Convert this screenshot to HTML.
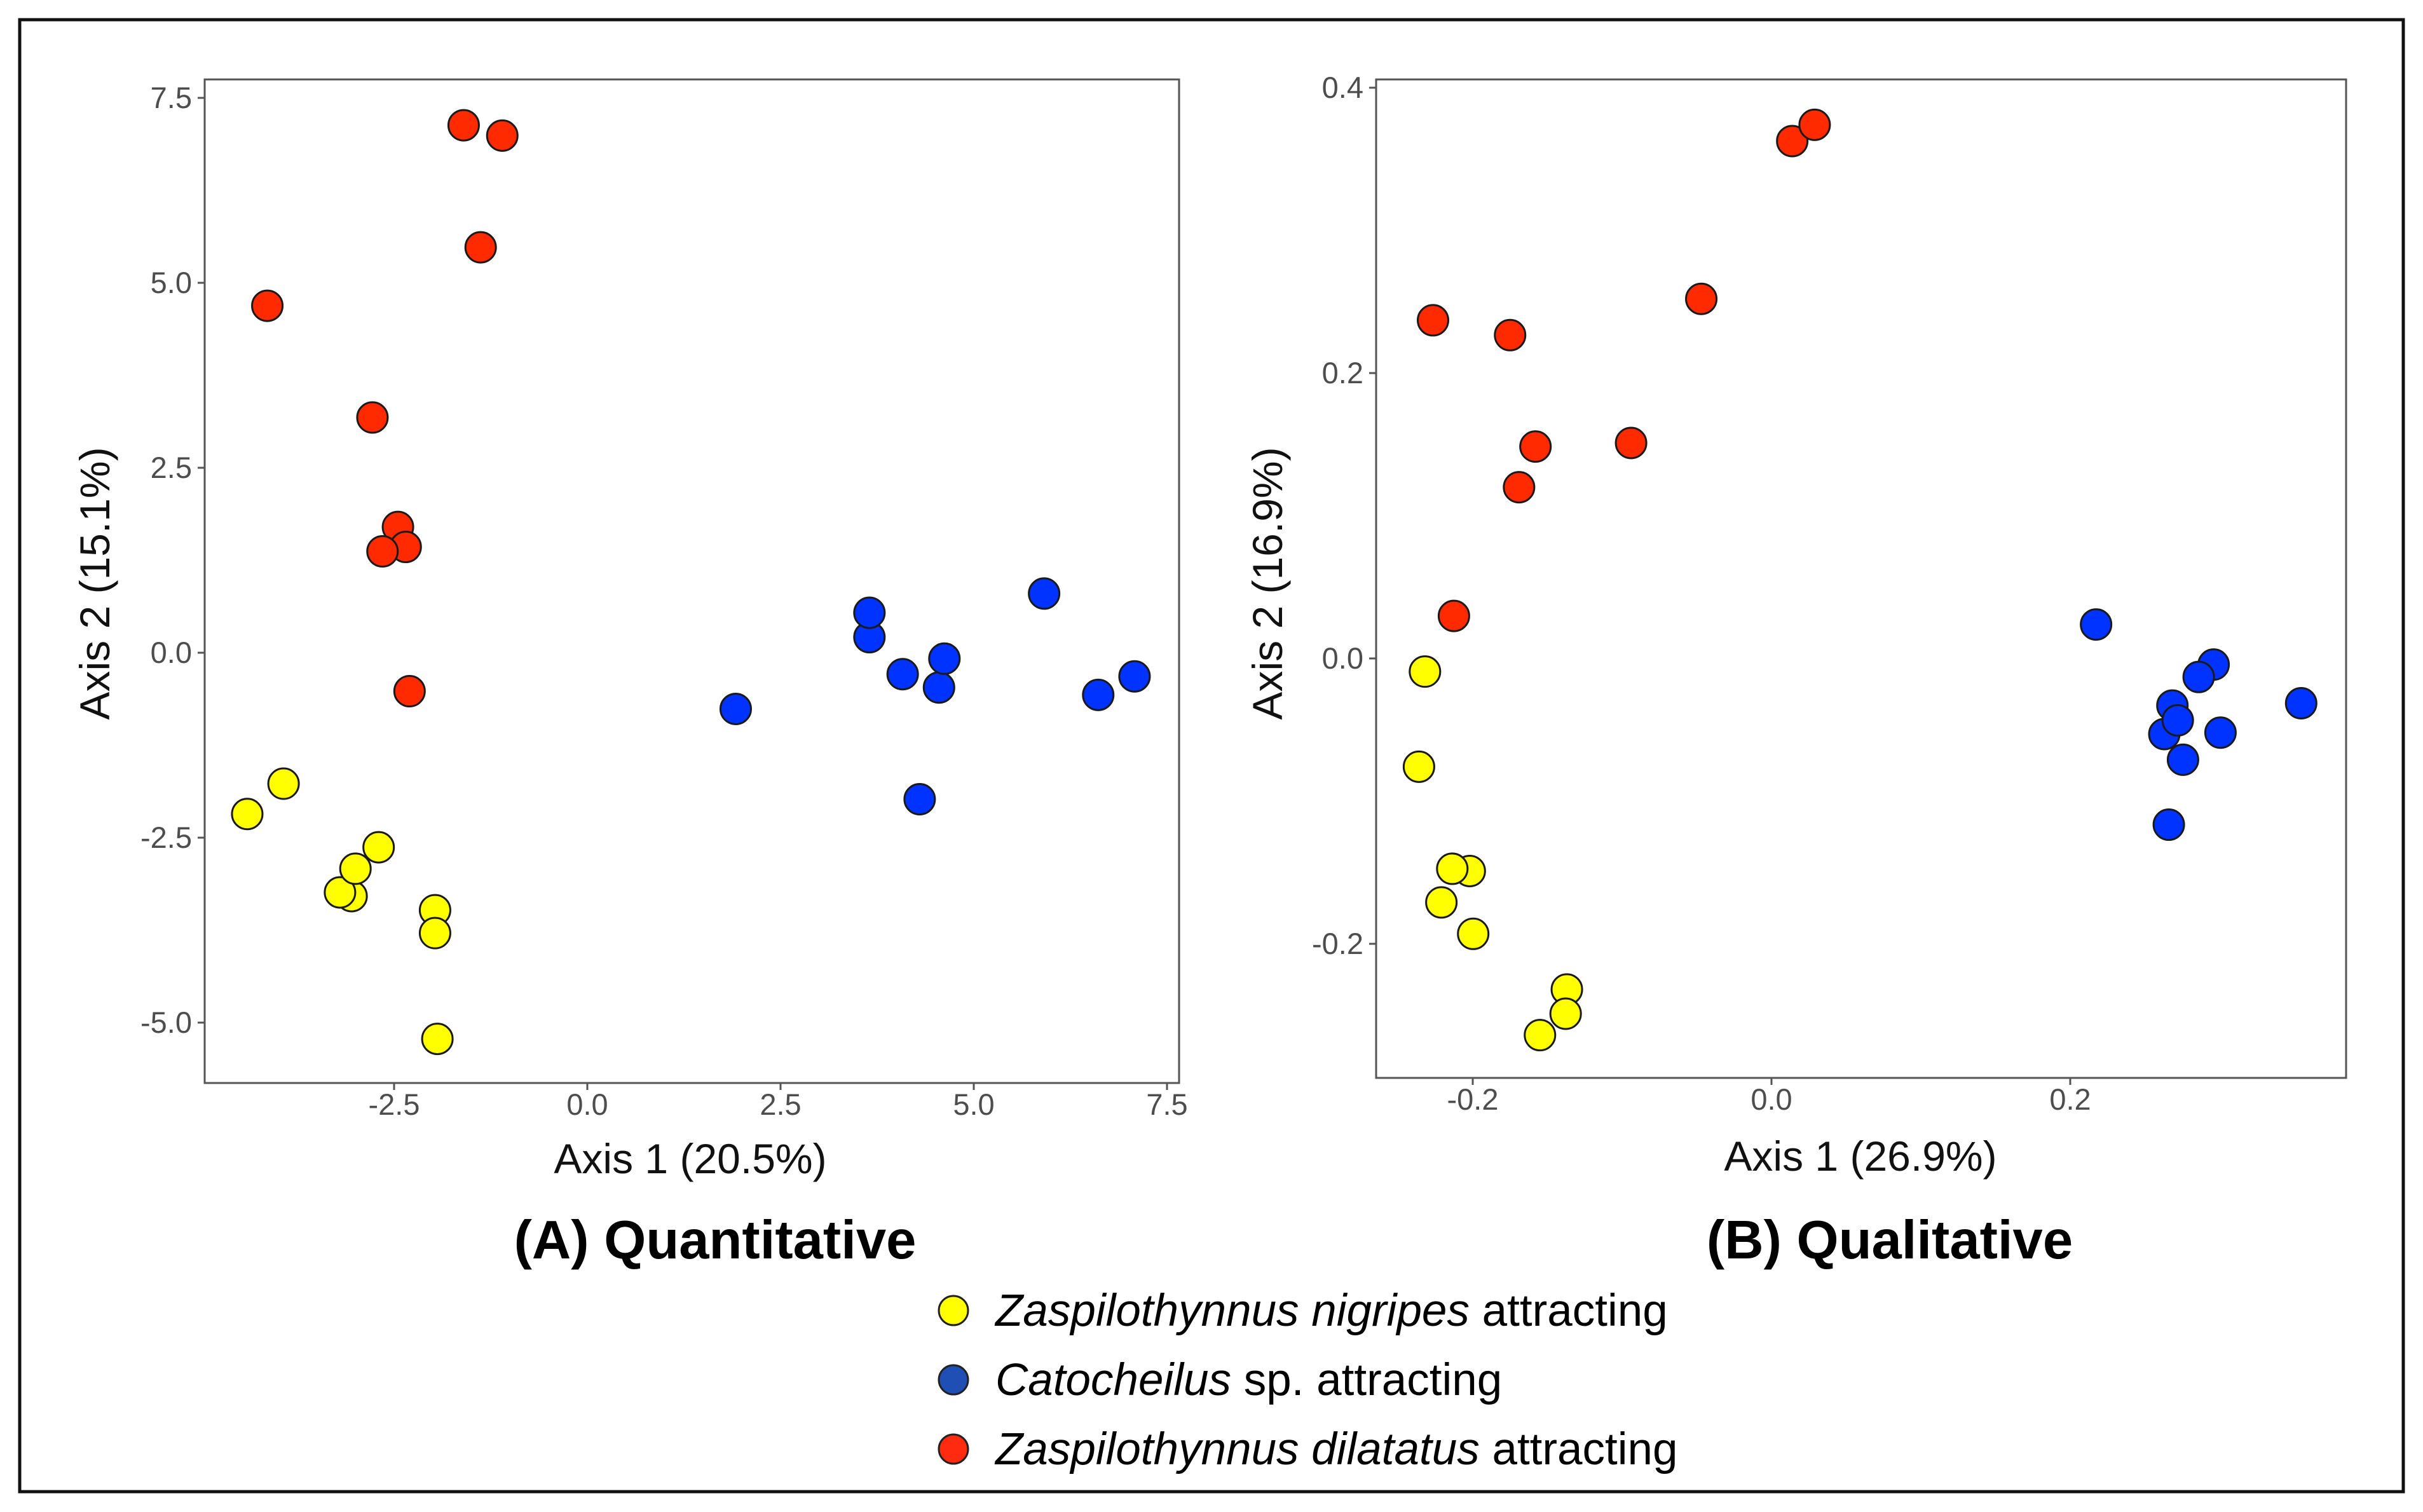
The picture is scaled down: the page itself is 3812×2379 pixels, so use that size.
<!DOCTYPE html>
<html><head><meta charset="utf-8"><style>
html,body{margin:0;padding:0;background:#fff}
svg{display:block}
text{font-family:"Liberation Sans",Arial,sans-serif}
</style></head><body>
<svg id="chart" width="3812" height="2379" viewBox="0 0 3812 2379" xmlns="http://www.w3.org/2000/svg">
<rect x="31" y="31" width="3750" height="2316" fill="#fff" stroke="#111" stroke-width="5"/>
<g id="panelA"></g>
<g id="panelB"></g>
<text x="1125" y="1980" font-size="85" font-weight="bold" text-anchor="middle" fill="#000">(A) Quantitative</text>
<text x="2973" y="1980" font-size="85" font-weight="bold" text-anchor="middle" fill="#000">(B) Qualitative</text>
<g>
 <g>
  <circle cx="1500" cy="2062" r="23" fill="#ffff00" stroke="#222" stroke-width="3"/>
  <text x="1566" y="2086" font-size="71" fill="#000"><tspan font-style="italic">Zaspilothynnus nigripes</tspan> attracting</text>
 </g>
 <g>
  <circle cx="1500" cy="2171" r="23" fill="#1f4fb4" stroke="#222" stroke-width="3"/>
  <text x="1566" y="2195" font-size="71" fill="#000"><tspan font-style="italic">Catocheilus</tspan> sp. attracting</text>
 </g>
 <g>
  <circle cx="1500" cy="2280" r="23" fill="#ff2a10" stroke="#222" stroke-width="3"/>
  <text x="1566" y="2304" font-size="71" fill="#000"><tspan font-style="italic">Zaspilothynnus dilatatus</tspan> attracting</text>
 </g>
</g>
</svg>
<script>
// Panel A data
const aRedX = [-1.6,-1.1,-1.38,-4.14,-2.78,-2.45,-2.35,-2.65,-2.3];
const aRedY = [7.13,6.99,5.48,4.69,3.18,1.70,1.43,1.37,-0.52];
const aYelX = [-4.4,-3.93,-2.7,-3.05,-3.2,-3.0,-1.97,-1.97,-1.94];
const aYelY = [-2.18,-1.77,-2.63,-3.29,-3.24,-2.92,-3.48,-3.79,-5.22];
const aBluX = [1.92,3.65,3.65,4.08,4.55,4.62,4.3,5.91,6.61,7.08];
const aBluY = [-0.76,0.21,0.54,-0.29,-0.47,-0.08,-1.98,0.80,-0.57,-0.32];
const aXTicks = [-2.5,0,2.5,5,7.5];
const aXTickLabels = ["-2.5","0.0","2.5","5.0","7.5"];
const aYTicks = [-5,-2.5,0,2.5,5,7.5];
const aYTickLabels = ["-5.0","-2.5","0.0","2.5","5.0","7.5"];
// Panel B data
const bRedX = [0.0139,0.0289,-0.047,-0.2266,-0.175,-0.158,-0.094,-0.169,-0.2126];
const bRedY = [0.3626,0.374,0.252,0.237,0.2266,0.1485,0.151,0.120,0.0298];
const bYelX = [-0.232,-0.236,-0.202,-0.2137,-0.221,-0.1997,-0.137,-0.1378,-0.155];
const bYelY = [-0.0092,-0.0759,-0.149,-0.1474,-0.171,-0.193,-0.232,-0.249,-0.264];
const bBluX = [0.2173,0.296,0.286,0.2684,0.263,0.3006,0.272,0.2755,0.266,0.3546];
const bBluY = [0.0238,-0.0043,-0.013,-0.033,-0.053,-0.052,-0.0434,-0.071,-0.1165,-0.0314];
const bXTicks = [-0.2,0,0.2];
const bXTickLabels = ["-0.2","0.0","0.2"];
const bYTicks = [-0.2,0,0.2,0.4];
const bYTickLabels = ["-0.2","0.0","0.2","0.4"];

const NS = "http://www.w3.org/2000/svg";
function mk(tag, attrs, parent){const e=document.createElementNS(NS,tag);for(const k in attrs)e.setAttribute(k,attrs[k]);parent.appendChild(e);return e;}

function drawPanel(g, box, xScale, yScale, xt, xtl, yt, ytl, xTitle, yTitle, series){
  const frame = mk('rect',{x:box.l,y:box.t,width:box.r-box.l,height:box.b-box.t,fill:'#fff',stroke:'#555','stroke-width':3},g);
  
  
  xt.forEach((v,i)=>{
    const x=xScale(v);
    const t=mk('line',{x1:x,x2:x,y1:box.b,y2:box.b+11,stroke:'#555','stroke-width':3},g);
    
    
    const l=mk('text',{x:x,y:box.b+50,'font-size':47,'text-anchor':'middle',fill:'#4d4d4d'},g);
    l.textContent=xtl[i];
    
    
  });
  yt.forEach((v,i)=>{
    const y=yScale(v);
    const t=mk('line',{x1:box.l-11,x2:box.l,y1:y,y2:y,stroke:'#555','stroke-width':3},g);
    
    
    const l=mk('text',{x:box.l-20,y:y+16,'font-size':47,'text-anchor':'end',fill:'#4d4d4d'},g);
    l.textContent=ytl[i];
    
    
  });
  const xt2=mk('text',{x:xTitle.x,y:xTitle.y,'font-size':66,'text-anchor':'middle',fill:'#111'},g);
  xt2.textContent=xTitle.t;
  
  
  const yt2=mk('text',{x:0,y:0,'font-size':66,'text-anchor':'middle',fill:'#111',transform:`translate(${yTitle.x},${yTitle.y}) rotate(-90)`},g);
  yt2.textContent=yTitle.t;
  
  
  series.forEach(s=>{
    s.xs.forEach((xv,i)=>{
      const c=mk('circle',{cx:xScale(xv),cy:yScale(s.ys[i]),r:24,fill:s.color,stroke:'#1a1a1a','stroke-width':3},g);
      
      
    });
  });
}

// Panel A scales
const boxA={l:322,r:1855,t:125,b:1704};
const axA=v=>924+v*(304/2.5);
const ayA=v=>1027-v*(291/2.5);
drawPanel(document.getElementById('panelA'),boxA,axA,ayA,aXTicks,aXTickLabels,aYTicks,aYTickLabels,
 {x:1086,y:1846,t:'Axis 1 (20.5%)'},{x:172,y:918,t:'Axis 2 (15.1%)'},
 [{xs:aRedX,ys:aRedY,color:'#ff2a00',name:'point-dilatatus'},
  {xs:aYelX,ys:aYelY,color:'#ffff00',name:'point-nigripes'},
  {xs:aBluX,ys:aBluY,color:'#0033ff',name:'point-catocheilus'}]);

// Panel B scales
const boxB={l:2165,r:3691,t:125,b:1696};
const axB=v=>2787+v*(470/0.2);
const ayB=v=>1036-v*(449/0.2);
drawPanel(document.getElementById('panelB'),boxB,axB,ayB,bXTicks,bXTickLabels,bYTicks,bYTickLabels,
 {x:2927,y:1842,t:'Axis 1 (26.9%)'},{x:2017,y:918,t:'Axis 2 (16.9%)'},
 [{xs:bRedX,ys:bRedY,color:'#ff2a00',name:'point-dilatatus'},
  {xs:bYelX,ys:bYelY,color:'#ffff00',name:'point-nigripes'},
  {xs:bBluX,ys:bBluY,color:'#0033ff',name:'point-catocheilus'}]);
</script>
</body></html>
